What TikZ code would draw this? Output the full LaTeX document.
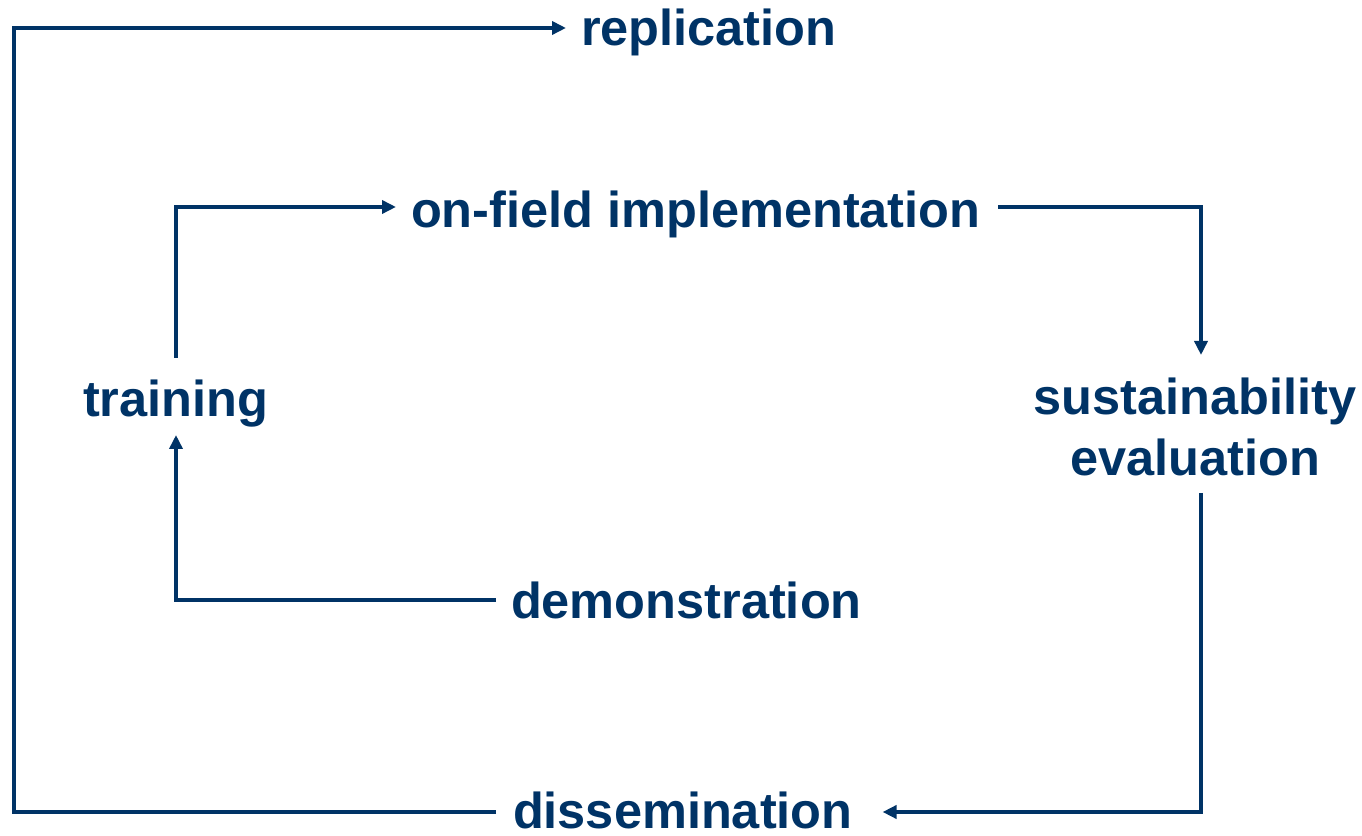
\documentclass[tikz,border=0pt]{standalone}
\usepackage{fontspec}
\setmainfont{Liberation Sans}
\usetikzlibrary{arrows.meta}
\definecolor{navy}{RGB}{0,51,102}
\tikzset{
  lbl/.style={inner sep=0pt, outer sep=0pt, text=navy, font=\fontsize{50.5}{61}\selectfont\bfseries},
  arr/.style={draw=navy, line width=4.2pt, line join=miter, -{Triangle[length=14pt,width=13pt]}}
}
\begin{document}
\begin{tikzpicture}[x=1pt,y=1pt]
\useasboundingbox (0,0) rectangle (1362,835);
% labels
\node[lbl, anchor=base west] (rep)   at (581,789) {replication};
\node[lbl, anchor=base west] (onf)   at (411,607) {on-field implementation};
\node[lbl, anchor=base west] (train) at (83,418) {training};
\node[lbl, anchor=north, align=center] (sust) at (1195,457) {sustainability\\evaluation};
\node[lbl, anchor=base west] (demo)  at (511,216) {demonstration};
\node[lbl, anchor=base west] (diss)  at (513,7) {dissemination};
% corners
\coordinate (cDT) at (176,235);
\coordinate (cTO) at (176,628);
\coordinate (cOS) at (1201,628);
\coordinate (cSD) at (1201,23);
\coordinate (cLB) at (14,23);
\coordinate (cLT) at (14,807);
% connectors
\draw[arr] ([xshift=-15pt]demo.west |- cDT) -- (cDT) -- (176,400);
\draw[arr] (176,477) -- (cTO) -- ([xshift=-15pt]onf.west |- cTO);
\draw[arr] (998,628) -- (cOS) -- (1201,480);
\draw[arr] (1201,342) -- (cSD) -- ([xshift=30pt]diss.east |- cSD);
\draw[arr] ([xshift=-17pt]diss.west |- cLB) -- (cLB) -- (cLT) -- ([xshift=-15pt]rep.west |- cLT);
\end{tikzpicture}
\end{document}
